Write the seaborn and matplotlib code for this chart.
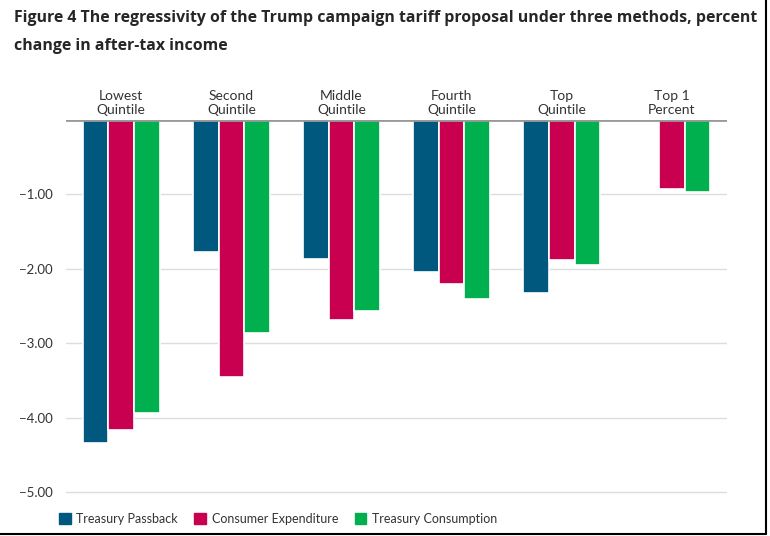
import pandas as pd
import numpy as np
import matplotlib
matplotlib.use("Agg")
import matplotlib.pyplot as plt
from matplotlib.lines import Line2D
import seaborn as sns

# Data (percent change in after-tax income)
groups = ["Lowest\nQuintile", "Second\nQuintile", "Middle\nQuintile",
          "Fourth\nQuintile", "Top\nQuintile", "Top 1\nPercent"]
methods = ["Treasury Passback", "Consumer Expenditure", "Treasury Consumption"]
treasury_passback = [-4.34, -1.77, -1.87, -2.04, -2.32, np.nan]
consumer_expenditure = [-4.17, -3.45, -2.69, -2.20, -1.88, -0.93]
treasury_consumption = [-3.94, -2.86, -2.57, -2.41, -1.95, -0.97]
colors = ["#00587F", "#C9004F", "#00B04F"]

df = pd.DataFrame({
    "Group": groups * 3,
    "Method": [methods[0]] * 6 + [methods[1]] * 6 + [methods[2]] * 6,
    "Change": treasury_passback + consumer_expenditure + treasury_consumption,
})

sns.set_theme(style="white")
plt.rcParams["font.family"] = ["Lato", "DejaVu Sans"]

fig = plt.figure(figsize=(7.7, 5.36), dpi=100)
ax = fig.add_axes([0.086, 0.075, 0.858, 0.701])

sns.barplot(data=df, x="Group", y="Change", hue="Method", order=groups,
            hue_order=methods, palette=colors, width=0.7, ax=ax,
            edgecolor="white", linewidth=1.2, saturation=1, legend=False)

ax.set_ylim(-5.05, 0)
ax.set_xlim(-0.5, 5.5)
ax.set_yticks([-1, -2, -3, -4, -5])
ax.set_yticklabels([f"{v:.2f}".replace("-", "\u2212") for v in [-1, -2, -3, -4, -5]],
                   fontsize=9.5, color="#333333")
ax.yaxis.grid(True, color="#DDDDDD", linewidth=1)
ax.set_axisbelow(True)
ax.tick_params(axis="y", length=0, pad=10)
ax.axhline(0, color="#999999", linewidth=2, zorder=5)

ax.xaxis.tick_top()
ax.tick_params(axis="x", length=0, pad=3, labelsize=10, labelcolor="#333333")
ax.set_xlabel("")
ax.set_ylabel("")
for s in ax.spines.values():
    s.set_visible(False)

handles = [plt.Rectangle((0, 0), 1, 1, color=c) for c in colors]
fig.legend(handles, methods, loc="lower left", bbox_to_anchor=(0.062, 0.0),
           ncol=3, frameon=False, fontsize=9, handlelength=0.95,
           handleheight=0.95, handletextpad=0.45, columnspacing=1.3,
           labelcolor="#333333")

fig.text(0.018, 0.982, "Figure 4 The regressivity of the Trump campaign tariff proposal "
         "under three methods, percent\nchange in after-tax income",
         fontsize=11.45, fontweight="bold", va="top", ha="left",
         family=["Open Sans", "DejaVu Sans"], linespacing=2.0)

# frame lines on right and bottom edges
fig.add_artist(Line2D([0.995, 0.995], [0.004, 1.0], color="black", linewidth=1.5))
fig.add_artist(Line2D([0.0, 0.995], [0.004, 0.004], color="black", linewidth=1.5))

fig.savefig("out.png", dpi=100)
